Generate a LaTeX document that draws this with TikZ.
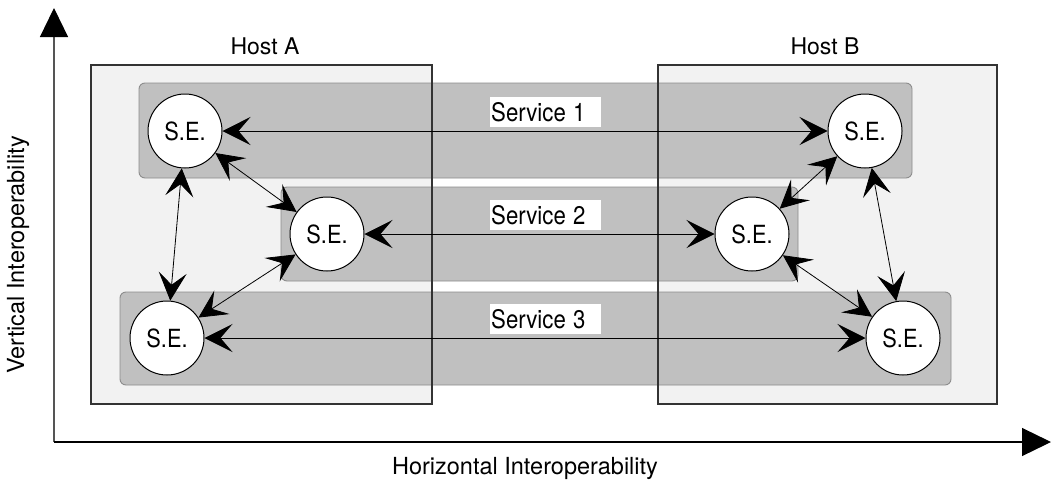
\documentclass[tikz,border=0pt]{standalone}
\usepackage{fontspec}
\usepackage{graphicx}
\setmainfont{TeX Gyre Heros}
\usetikzlibrary{arrows.meta}

\definecolor{hostfill}{HTML}{F2F2F2}
\definecolor{hostline}{HTML}{333333}
\definecolor{svcfill}{HTML}{C0C0C0}
\definecolor{svcline}{HTML}{8C8C8C}
\definecolor{axisgray}{HTML}{555555}

% slightly condensed lettering for the element and service texts
\newcommand\narrowtext[1]{\scalebox{0.87}[1]{#1}}

\tikzset{
  hostbox/.style={fill=hostfill},
  hostframe/.style={draw=hostline, line width=1.3pt},
  svcbox/.style={fill=svcfill, draw=svcline, line width=0.9pt, rounded corners=6pt},
  se/.style={circle, draw=black, line width=1pt, fill=white, minimum size=74pt,
             inner sep=0pt, font=\fontsize{25}{28}\selectfont},
  svclabel/.style={fill=white, inner sep=0pt, minimum height=30pt, text width=111pt,
             align=left, anchor=north west, font=\fontsize{25.5}{28}\selectfont},
  hostlabel/.style={font=\fontsize{23}{26}\selectfont, anchor=base},
  axislabel/.style={font=\fontsize{23.5}{28}\selectfont},
  link/.style={{Stealth[length=28pt,width=28pt,inset=12pt]}-{Stealth[length=28pt,width=28pt,inset=12pt]},
             line width=0.8pt, black},
  axisarrow/.style={-{Triangle[length=29pt,width=28pt,color=black]}, line width=1.2pt},
}

\begin{document}
\begin{tikzpicture}[x=1pt,y=-1pt]
  \useasboundingbox (0,0) rectangle (1051,485);

  % host areas (fill first, frames drawn over the service strips)
  \path[hostbox] (91,65) rectangle (432,404);
  \path[hostbox] (658,65) rectangle (997,404);

  % service strips
  \draw[svcbox] (139,83) rectangle (912,178);
  \draw[svcbox] (281,187) rectangle (798,281);
  \draw[svcbox] (120,292) rectangle (951,385);

  \draw[hostframe] (91,65) rectangle (432,404);
  \draw[hostframe] (658,65) rectangle (997,404);

  \node[hostlabel] (hostA) at (265,54) {Host A};
  \node[hostlabel] (hostB) at (825,54) {Host B};

  % service labels
  \node[svclabel] (s1) at (490,97) {\hspace{1pt}\narrowtext{Service 1}};
  \node[svclabel] (s2) at (490,200) {\hspace{1pt}\narrowtext{Service 2}};
  \node[svclabel] (s3) at (490,304) {\hspace{1pt}\narrowtext{Service 3}};

  % service elements
  \node[se] (a1) at (185,131) {\narrowtext{S.E.}};
  \node[se] (a2) at (327,234) {\narrowtext{S.E.}};
  \node[se] (a3) at (167,338) {\narrowtext{S.E.}};
  \node[se] (b1) at (865,131) {\narrowtext{S.E.}};
  \node[se] (b2) at (752,234) {\narrowtext{S.E.}};
  \node[se] (b3) at (903,338) {\narrowtext{S.E.}};

  % horizontal interoperability
  \draw[link] (a1) -- (b1);
  \draw[link] (a2) -- (b2);
  \draw[link] (a3) -- (b3);

  % vertical interoperability
  \draw[link] (a1) -- (a2);
  \draw[link] (a1) -- (a3);
  \draw[link] (a2) -- (a3);
  \draw[link] (b1) -- (b2);
  \draw[link] (b1) -- (b3);
  \draw[link] (b2) -- (b3);

  % axes
  \coordinate (origin) at (54,442);
  \coordinate (ytip) at (54,8);
  \coordinate (xtip) at (1051,442);
  \draw[axisarrow, draw=axisgray] (origin) -- (ytip);
  \draw[axisarrow] (origin) -- (xtip);

  \node[axislabel, rotate=90] (vlab) at (18,255) {Vertical Interoperability};
  \node[axislabel] (hlab) at (525,468) {Horizontal Interoperability};
\end{tikzpicture}
\end{document}
